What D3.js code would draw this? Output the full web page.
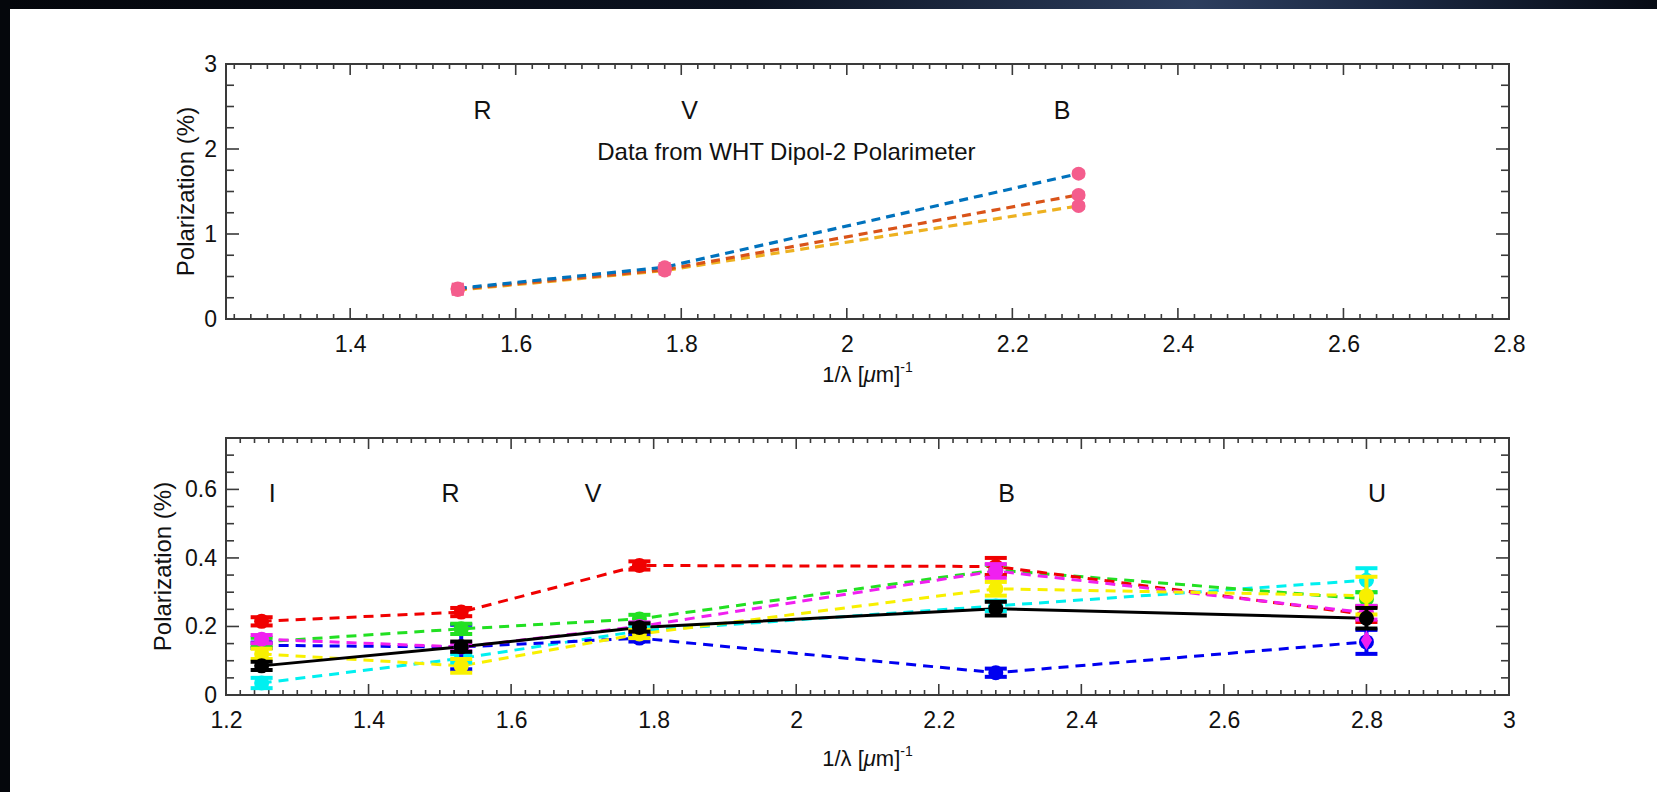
<!DOCTYPE html>
<html><head><meta charset="utf-8">
<script src="https://cdn.jsdelivr.net/npm/d3@7"></script>
<style>
body{margin:0;background:#fff;overflow:hidden;}
svg{display:block;}
text{font-family:"Liberation Sans",Arial,Helvetica,sans-serif;fill:#111;}
</style>
</head><body><svg id="c" width="1657" height="792"></svg>
<script>
// ---------- DATA ----------
// top panel (WHT Dipol-2)
const topBandNames = ["R", "V", "B"];
const topBandLabelX = [1.56, 1.81, 2.26];
const topX = [1.53, 1.78, 2.28];
const topBlue = [0.36, 0.61, 1.71];
const topOrange = [0.35, 0.58, 1.46];
const topYellow = [0.34, 0.57, 1.33];
const topErr = [0.05, 0.04, 0.03];
const topXTicks = [1.4, 1.6, 1.8, 2.0, 2.2, 2.4, 2.6, 2.8];
const topYTicks = [0, 1, 2, 3];
const topNote = "Data from WHT Dipol-2 Polarimeter";

// bottom panel
const botBandNames = ["I", "R", "V", "B", "U"];
const botBandLabelX = [1.265, 1.515, 1.715, 2.295, 2.815];
const botX = [1.25, 1.53, 1.78, 2.28, 2.80];
const botCyan = [0.035, 0.107, 0.187, 0.26, 0.335];
const botCyanErr = [0.015, 0.012, 0.012, 0.015, 0.035];
const botBlue = [0.145, 0.14, 0.166, 0.065, 0.155];
const botBlueErr = [0.008, 0.065, 0.01, 0.012, 0.035];
const botGreen = [0.155, 0.193, 0.222, 0.365, 0.28];
const botGreenErr = [0.012, 0.015, 0.012, 0.015, 0.02];
const botRed = [0.215, 0.242, 0.378, 0.375, 0.235];
const botRedErr = [0.012, 0.012, 0.012, 0.025, 0.022];
const botMagenta = [0.163, 0.14, 0.2, 0.362, 0.24];
const botMagentaErr = [0.012, 0.012, 0.012, 0.02, 0.02];
const botYellow = [0.12, 0.085, 0.178, 0.31, 0.29];
const botYellowErr = [0.015, 0.02, 0.012, 0.02, 0.055];
const botBlack = [0.085, 0.141, 0.197, 0.252, 0.224];
const botBlackErr = [0.012, 0.015, 0.012, 0.02, 0.03];
const extraMagentaX = [2.80];
const extraMagentaY = [0.16];
const botXTicks = [1.2, 1.4, 1.6, 1.8, 2.0, 2.2, 2.4, 2.6, 2.8, 3.0];
const botYTicks = [0, 0.2, 0.4, 0.6];

// ---------- LAYOUT ----------
const svg = d3.select("#c");
const W = 1657, H = 792;
const fmt = d => String(+d.toFixed(2));

// dark photo border (top & left)
const defs = svg.append("defs");
const g1 = defs.append("linearGradient").attr("id", "topband").attr("x1", "0").attr("x2", "1");
[["0", "#04060b"], ["0.45", "#0b1220"], ["0.72", "#2d3e5e"], ["0.85", "#1a2740"], ["1", "#070b14"]]
  .forEach(([o, c]) => g1.append("stop").attr("offset", o).attr("stop-color", c));
svg.append("rect").attr("x", 0).attr("y", 0).attr("width", W).attr("height", 9).attr("fill", "url(#topband)");
svg.append("rect").attr("x", 0).attr("y", 0).attr("width", 10).attr("height", H).attr("fill", "#05070c");

function panel(opt) {
  const x = d3.scaleLinear().domain(opt.xDomain).range([opt.left, opt.right]);
  const y = d3.scaleLinear().domain(opt.yDomain).range([opt.bottom, opt.top]);
  const g = svg.append("g");
  const axisColor = "#3a3a3a";

  // minor ticks
  const xm = d3.range(Math.ceil(opt.xDomain[0] / opt.xMinor - 1e-6), Math.floor(opt.xDomain[1] / opt.xMinor + 1e-6) + 1)
    .map(i => +(i * opt.xMinor).toFixed(4));
  const ym = d3.range(Math.ceil(opt.yDomain[0] / opt.yMinor - 1e-6), Math.floor(opt.yDomain[1] / opt.yMinor + 1e-6) + 1)
    .map(i => +(i * opt.yMinor).toFixed(4));
  const isMajorX = v => opt.xTicks.some(t => Math.abs(t - v) < 1e-6);
  const isMajorY = v => opt.yTicks.some(t => Math.abs(t - v) < 1e-6);

  const tk = g.append("g").attr("stroke", axisColor).attr("stroke-width", 1.6);
  xm.forEach(v => {
    const L = isMajorX(v) ? 11 : 5;
    tk.append("line").attr("x1", x(v)).attr("x2", x(v)).attr("y1", opt.bottom).attr("y2", opt.bottom - L);
    tk.append("line").attr("x1", x(v)).attr("x2", x(v)).attr("y1", opt.top).attr("y2", opt.top + L);
  });
  ym.forEach(v => {
    const L = isMajorY(v) ? 13 : 8;
    tk.append("line").attr("y1", y(v)).attr("y2", y(v)).attr("x1", opt.left).attr("x2", opt.left + L);
    tk.append("line").attr("y1", y(v)).attr("y2", y(v)).attr("x1", opt.right).attr("x2", opt.right - L);
  });

  const xAxis = d3.axisBottom(x).tickValues(opt.xTicks).tickFormat(fmt).tickSize(0).tickPadding(17);
  const gx = g.append("g").attr("transform", `translate(0,${opt.bottom})`).call(xAxis);
  gx.select(".domain").remove();
  gx.selectAll("text").attr("font-size", 23).attr("fill", "#111").attr("font-family", "Liberation Sans, Arial, sans-serif");
  const yAxis = d3.axisLeft(y).tickValues(opt.yTicks).tickFormat(fmt).tickSize(0).tickPadding(9);
  const gy = g.append("g").attr("transform", `translate(${opt.left},0)`).call(yAxis);
  gy.select(".domain").remove();
  gy.selectAll("text").attr("font-size", 23).attr("fill", "#111").attr("font-family", "Liberation Sans, Arial, sans-serif");

  g.append("rect").attr("x", opt.left).attr("y", opt.top)
    .attr("width", opt.right - opt.left).attr("height", opt.bottom - opt.top)
    .attr("fill", "none").attr("stroke", axisColor).attr("stroke-width", 2);

  g.append("text").attr("transform", `translate(${opt.ylabX},${(opt.top + opt.bottom) / 2}) rotate(-90)`)
    .attr("text-anchor", "middle").attr("dominant-baseline", "central").attr("font-size", 24)
    .text("Polarization (%)");
  const xl = g.append("text").attr("x", (opt.left + opt.right) / 2).attr("y", opt.xlabY)
    .attr("text-anchor", "middle").attr("font-size", 22);
  xl.append("tspan").text("1/λ [");
  xl.append("tspan").attr("font-style", "italic").text("μ");
  xl.append("tspan").text("m]");
  xl.append("tspan").attr("font-size", 14).attr("dy", -10).text("-1");

  opt.bandNames.forEach((b, i) => {
    g.append("text").attr("x", x(opt.bandLabelX[i])).attr("y", y(opt.bandLabelY))
      .attr("text-anchor", "middle").attr("dominant-baseline", "central").attr("font-size", 25).text(b);
  });
  return {x, y, g};
}

// ---------- TOP PANEL ----------
const P1 = panel({
  left: 226, right: 1509, top: 64, bottom: 319,
  xDomain: [1.25, 2.8], yDomain: [0, 3], xMinor: 0.02, yMinor: 0.25,
  xTicks: topXTicks, yTicks: topYTicks, ylabX: 185, xlabY: 382,
  bandNames: topBandNames, bandLabelX: topBandLabelX, bandLabelY: 2.46
});
P1.g.append("text").attr("x", P1.x(1.927)).attr("y", P1.y(1.97)).attr("text-anchor", "middle")
  .attr("dominant-baseline", "central").attr("font-size", 24).text(topNote);

const topSeries = [
  {v: topBlue, c: "#0072BD"},
  {v: topOrange, c: "#D95319"},
  {v: topYellow, c: "#EDB120"}
];
const line1 = d3.line().x(d => P1.x(d[0])).y(d => P1.y(d[1]));
topSeries.slice().reverse().forEach(s => {
  P1.g.append("path").datum(topX.map((xv, i) => [xv, s.v[i]])).attr("d", line1)
    .attr("fill", "none").attr("stroke", s.c).attr("stroke-width", 3.2).attr("stroke-dasharray", "9,6");
});
const pink = "#f45d8d";
topSeries.forEach(s => {
  topX.forEach((xv, i) => {
    const cx = P1.x(xv), cy = P1.y(s.v[i]), e = topErr[i];
    P1.g.append("line").attr("x1", cx).attr("x2", cx).attr("y1", P1.y(s.v[i] - e)).attr("y2", P1.y(s.v[i] + e))
      .attr("stroke", pink).attr("stroke-width", 3);
    [s.v[i] - e, s.v[i] + e].forEach(v => P1.g.append("line").attr("x1", cx - 6).attr("x2", cx + 6)
      .attr("y1", P1.y(v)).attr("y2", P1.y(v)).attr("stroke", pink).attr("stroke-width", 3));
    P1.g.append("circle").attr("cx", cx).attr("cy", cy).attr("r", 7).attr("fill", pink);
  });
});

// ---------- BOTTOM PANEL ----------
const P2 = panel({
  left: 226, right: 1509, top: 438, bottom: 695,
  xDomain: [1.2, 3.0], yDomain: [0, 0.75], xMinor: 0.02, yMinor: 0.05,
  xTicks: botXTicks, yTicks: botYTicks, ylabX: 162, xlabY: 766,
  bandNames: botBandNames, bandLabelX: botBandLabelX, bandLabelY: 0.59
});

const botSeries = [
  {v: botCyan, e: botCyanErr, c: "#00f0f0", dash: true},
  {v: botBlue, e: botBlueErr, c: "#0000f0", dash: true},
  {v: botGreen, e: botGreenErr, c: "#22e022", dash: true},
  {v: botRed, e: botRedErr, c: "#f00000", dash: true},
  {v: botMagenta, e: botMagentaErr, c: "#f020f0", dash: true},
  {v: botYellow, e: botYellowErr, c: "#f8f000", dash: true},
  {v: botBlack, e: botBlackErr, c: "#000000", dash: false}
];
const line2 = d3.line().x(d => P2.x(d[0])).y(d => P2.y(d[1]));
botSeries.forEach(s => {
  P2.g.append("path").datum(botX.map((xv, i) => [xv, s.v[i]])).attr("d", line2)
    .attr("fill", "none").attr("stroke", s.c).attr("stroke-width", 3)
    .attr("stroke-dasharray", s.dash ? "10,7" : null);
});
function errPoint(g, X, Y, xv, yv, e, c, r) {
  const cx = X(xv);
  g.append("line").attr("x1", cx).attr("x2", cx).attr("y1", Y(yv - e)).attr("y2", Y(yv + e))
    .attr("stroke", c).attr("stroke-width", 4);
  [yv - e, yv + e].forEach(v => g.append("line").attr("x1", cx - 11).attr("x2", cx + 11)
    .attr("y1", Y(v)).attr("y2", Y(v)).attr("stroke", c).attr("stroke-width", 4));
  g.append("circle").attr("cx", cx).attr("cy", Y(yv)).attr("r", r).attr("fill", c);
}
botSeries.forEach(s => {
  botX.forEach((xv, i) => errPoint(P2.g, P2.x, P2.y, xv, s.v[i], s.e[i], s.c, 7.5));
});
extraMagentaX.forEach((xv, i) => {
  P2.g.append("path").attr("d", d3.symbol(d3.symbolDiamond, 110)())
    .attr("transform", `translate(${P2.x(xv)},${P2.y(extraMagentaY[i])})`).attr("fill", "#f020f0");
});
</script>
</body></html>
